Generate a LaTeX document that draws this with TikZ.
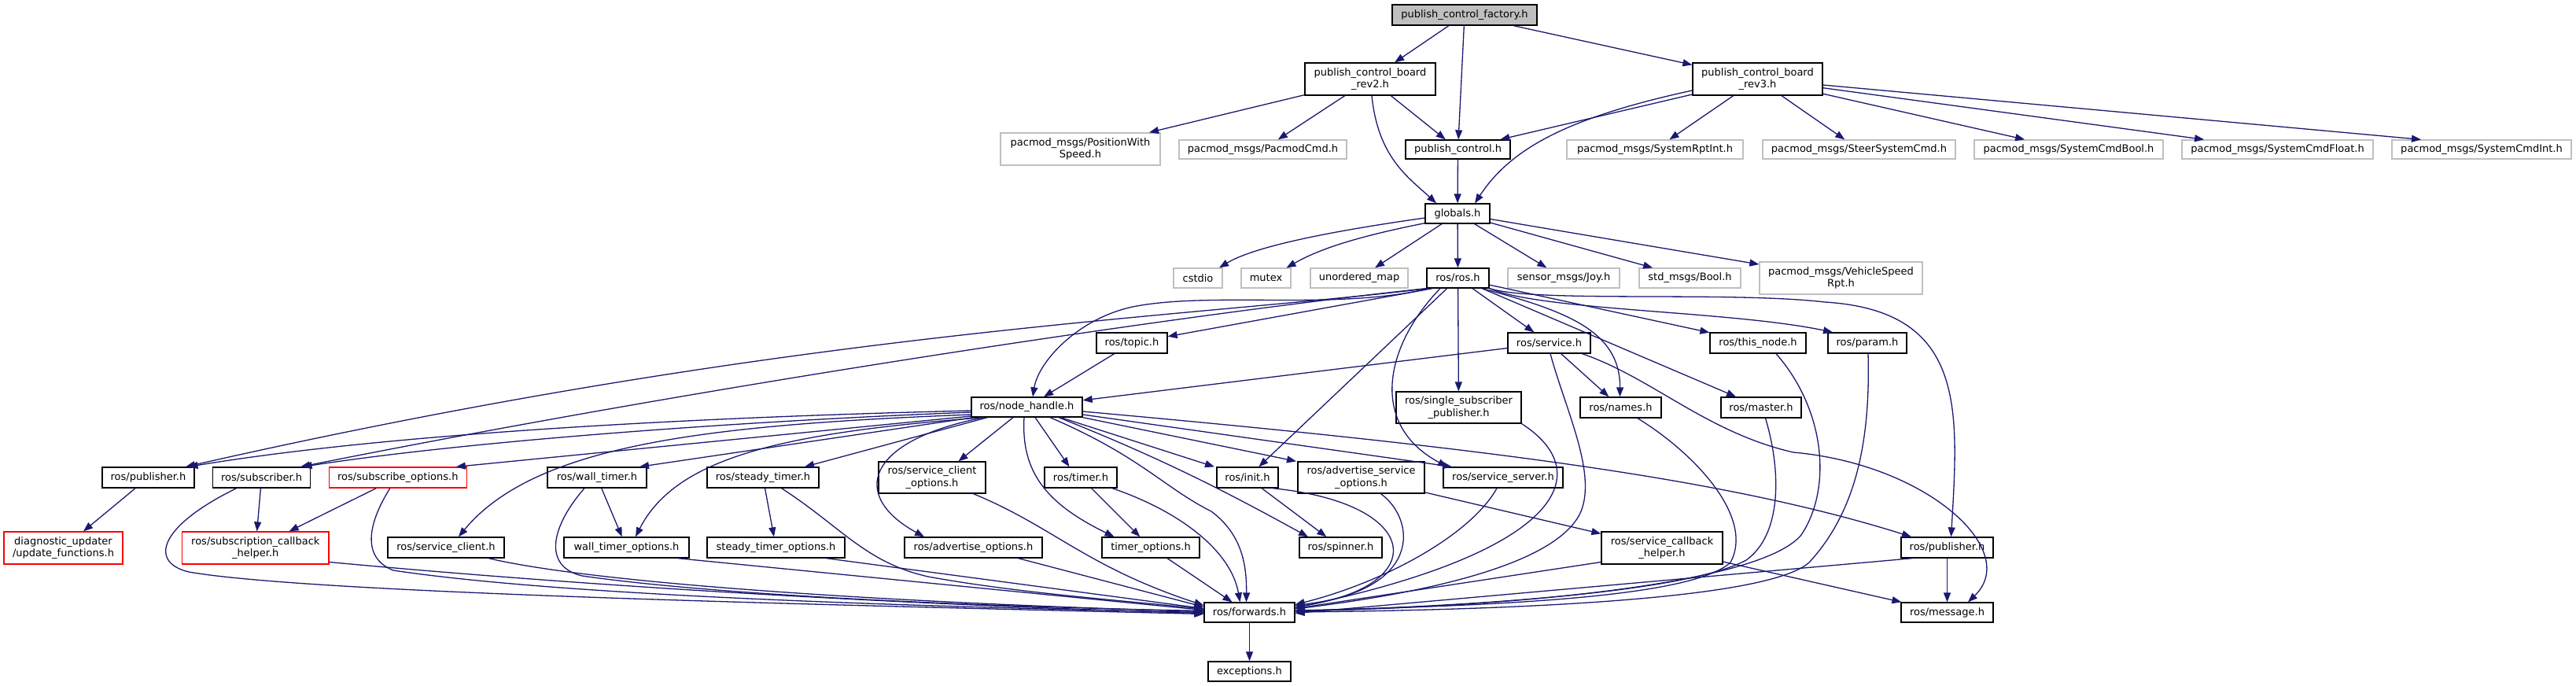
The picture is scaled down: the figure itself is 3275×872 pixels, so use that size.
\documentclass[tikz,border=0pt]{standalone}
\usepackage{fontspec}
\setmainfont{DejaVu Sans}
\usepackage{xcolor}
\usepackage{tikz}
\usetikzlibrary{arrows.meta}
\definecolor{edgeblue}{HTML}{191970}
\definecolor{extgray}{HTML}{BFBFBF}
\newcommand{\graphfont}{\fontsize{13}{15.5}\selectfont}

\begin{document}
\begin{tikzpicture}[x=1pt, y=-1pt,
	hdr/.style={draw=black, line width=1.3pt, inner sep=0pt, align=center, font=\graphfont, minimum height=25pt},
	ext/.style={hdr, draw=extgray},
	bad/.style={hdr, draw=red},
	dep/.style={draw=edgeblue, line width=1.3pt, -{Triangle[length=12pt,width=9pt]}}]

			\useasboundingbox (0,0) rectangle (3275,872);

			\node (factory) at (1862,19) [hdr, fill=extgray, minimum width=184pt, minimum height=26pt] {publish\_control\_factory.h};
			\node (rev2) at (1742,100.5) [hdr, minimum width=166pt, minimum height=41pt] {publish\_control\_board\\\_rev2.h};
			\node (rev3) at (2234.5,100.5) [hdr, minimum width=165pt, minimum height=41pt] {publish\_control\_board\\\_rev3.h};

			\node (poswspeed) at (1373.5,189.5) [ext, minimum width=203pt, minimum height=41pt] {pacmod\_msgs/PositionWith\\Speed.h};
			\node (pacmodcmd) at (1605.5,190) [ext, minimum width=213pt, minimum height=24pt] {pacmod\_msgs/PacmodCmd.h};
			\node (pubctrl) at (1853.5,190) [hdr, minimum width=133pt, minimum height=24pt] {publish\_control.h};
			\node (sysrptint) at (2104,190) [ext, minimum width=224pt, minimum height=24pt] {pacmod\_msgs/SystemRptInt.h};
			\node (steercmd) at (2363.5,190) [ext, minimum width=245pt, minimum height=24pt] {pacmod\_msgs/SteerSystemCmd.h};
			\node (cmdbool) at (2630,190) [ext, minimum width=240pt, minimum height=24pt] {pacmod\_msgs/SystemCmdBool.h};
			\node (cmdfloat) at (2895.5,190) [ext, minimum width=243pt, minimum height=24pt] {pacmod\_msgs/SystemCmdFloat.h};
			\node (cmdint) at (3155,190) [ext, minimum width=228pt, minimum height=24pt] {pacmod\_msgs/SystemCmdInt.h};

			\node (globals) at (1853,271.5) [hdr, minimum width=82pt] {globals.h};

			\node (cstdio) at (1523,353.5) [ext, minimum width=62pt] {cstdio};
			\node (mutex) at (1609.5,353.5) [ext, minimum width=63pt] {mutex};
			\node (umap) at (1728,353.5) [ext, minimum width=124pt] {unordered\_map};
			\node (rosh) at (1853.5,353.5) [hdr, minimum width=79pt] {ros/ros.h};
			\node (joy) at (1988,353.5) [ext, minimum width=142pt] {sensor\_msgs/Joy.h};
			\node (boolmsg) at (2148.5,353.5) [ext, minimum width=129pt] {std\_msgs/Bool.h};
			\node (vehspeed) at (2340.5,353.5) [ext, minimum width=207pt, minimum height=41pt] {pacmod\_msgs/VehicleSpeed\\Rpt.h};

			\node (topic) at (1439,436) [hdr, minimum width=90pt, minimum height=26pt] {ros/topic.h};
			\node (service) at (1969.5,436) [hdr, minimum width=105pt, minimum height=26pt] {ros/service.h};
			\node (thisnode) at (2235,436) [hdr, minimum width=122pt, minimum height=26pt] {ros/this\_node.h};
			\node (param) at (2374,436) [hdr, minimum width=100pt, minimum height=26pt] {ros/param.h};

			\node (nodehandle) at (1305.5,517.5) [hdr, minimum width=141pt] {ros/node\_handle.h};
			\node (sspub) at (1854.5,518) [hdr, minimum width=159pt, minimum height=40pt] {ros/single\_subscriber\\\_publisher.h};
			\node (names) at (2060.5,518) [hdr, minimum width=103pt, minimum height=26pt] {ros/names.h};
			\node (master) at (2239,518) [hdr, minimum width=102pt, minimum height=26pt] {ros/master.h};

			\node (pubA) at (188.5,607) [hdr, minimum width=117pt, minimum height=26pt] {ros/publisher.h};
			\node (subscriber) at (332.6,607) [hdr, minimum width=124pt, minimum height=26pt] {ros/subscriber.h};
			\node (subopts) at (505.8,607) [bad, minimum width=175pt, minimum height=26pt] {ros/subscribe\_options.h};
			\node (walltimer) at (759,607) [hdr, minimum width=126pt, minimum height=26pt] {ros/wall\_timer.h};
			\node (steadytimer) at (970,607) [hdr, minimum width=142pt, minimum height=26pt] {ros/steady\_timer.h};
			\node (srvclientopts) at (1185,607) [hdr, minimum width=136pt, minimum height=40pt] {ros/service\_client\\\_options.h};
			\node (timer) at (1374,607) [hdr, minimum width=92pt, minimum height=26pt] {ros/timer.h};
			\node (init) at (1586,607) [hdr, minimum width=78pt, minimum height=26pt] {ros/init.h};
			\node (advsrvopts) at (1730.5,607) [hdr, minimum width=161pt, minimum height=40pt] {ros/advertise\_service\\\_options.h};
			\node (srvserver) at (1911,607) [hdr, minimum width=152pt, minimum height=26pt] {ros/service\_server.h};

			\node (diagupd) at (80.5,696.5) [bad, minimum width=151pt, minimum height=41pt] {diagnostic\_updater\\/update\_functions.h};
			\node (subcbhelper) at (324.8,696.5) [bad, minimum width=186.5pt, minimum height=41pt] {ros/subscription\_callback\\\_helper.h};
			\node (srvclient) at (567,696) [hdr, minimum width=148pt, minimum height=26pt] {ros/service\_client.h};
			\node (walltimeropts) at (796.5,696) [hdr, minimum width=159pt, minimum height=26pt] {wall\_timer\_options.h};
			\node (steadytimeropts) at (986.5,696) [hdr, minimum width=175pt, minimum height=26pt] {steady\_timer\_options.h};
			\node (advopts) at (1237.5,696) [hdr, minimum width=175pt, minimum height=26pt] {ros/advertise\_options.h};
			\node (timeropts) at (1463,696) [hdr, minimum width=124pt, minimum height=26pt] {timer\_options.h};
			\node (spinner) at (1704.5,696) [hdr, minimum width=105pt, minimum height=26pt] {ros/spinner.h};
			\node (srvcbhelper) at (2113,696.5) [hdr, minimum width=154pt, minimum height=41pt] {ros/service\_callback\\\_helper.h};
			\node (pubB) at (2475.5,696) [hdr, minimum width=117pt, minimum height=26pt] {ros/publisher.h};

			\node (forwards) at (1588.5,778.5) [hdr, minimum width=115pt] {ros/forwards.h};
			\node (message) at (2475.5,778.5) [hdr, minimum width=117pt] {ros/message.h};
			\node (exceptions) at (1588.5,853.5) [hdr, minimum width=105pt] {exceptions.h};

			\draw[dep] (factory) -- (rev2);
			\draw[dep] (factory) -- (pubctrl);
			\draw[dep] (factory) -- (rev3);
			\draw[dep] (rev2) -- (poswspeed);
			\draw[dep] (rev2) -- (pacmodcmd);
			\draw[dep] (rev2) -- (pubctrl);
			\draw[dep] ([xshift=2pt]rev2.south) .. controls (1752,200) and (1790,225) .. ([xshift=-27pt]globals.north);
			\draw[dep] (rev3) -- (pubctrl);
			\draw[dep] ([yshift=-14.5pt]rev3.west) .. controls (1990,150) and (1920,190) .. ([xshift=22pt]globals.north);
			\draw[dep] (rev3) -- (sysrptint);
			\draw[dep] (rev3) -- (steercmd);
			\draw[dep] (rev3) -- (cmdbool);
			\draw[dep] (rev3) -- (cmdfloat);
			\draw[dep] (rev3) -- ([xshift=-77pt]cmdint.north);
			\draw[dep] (pubctrl) -- (globals);

			\draw[dep] ([yshift=-5.5pt]globals.west) .. controls (1720,290) and (1600,310) .. ([xshift=27pt]cstdio.north);
			\draw[dep] ([yshift=1pt]globals.south west) .. controls (1730,300) and (1680,315) .. ([xshift=26pt]mutex.north);
			\draw[dep] (globals) -- (umap);
			\draw[dep] (globals) -- (rosh);
			\draw[dep] (globals) -- (joy);
			\draw[dep] (globals) -- (boolmsg);
			\draw[dep] (globals) -- (vehspeed);

			\draw[dep] ([xshift=-32pt]rosh.south) -- (topic);
			\draw[dep] ([xshift=3pt]rosh.south west) .. controls (1700,395) and (1540,370) .. (1440,390) .. controls (1370,405) and (1320,460) .. ([xshift=7.5pt]nodehandle.north);
			\draw[dep] ([xshift=2pt]rosh.south west) .. controls (1500,405) and (1000,420) .. ([xshift=47.5pt]pubA.north);
			\draw[dep] (rosh.south west) .. controls (1500,400) and (900,490) .. ([xshift=49.5pt]subscriber.north);
			\draw[dep] (rosh) -- (sspub);
			\draw[dep] (rosh) -- (service);
			\draw[dep] (rosh) -- (thisnode);
			\draw[dep] (rosh.south east) .. controls (1960,395) and (2200,395) .. ([xshift=-44pt]param.north);
			\draw[dep] ([xshift=30.5pt]rosh.south) .. controls (1990,395) and (2060,420) .. ([xshift=-1pt]names.north);
			\draw[dep] (rosh) -- (master);
			\draw[dep] (rosh) -- (init);
			\draw[dep] ([xshift=-22.5pt]rosh.south) .. controls (1760,440) and (1740,540) .. ([xshift=-71pt]srvserver.north);
			\draw[dep] (rosh.south east) .. controls (1950,385) and (2200,370) .. (2320,384) .. controls (2500,395) and (2490,520) .. ([xshift=5pt]pubB.north);

			\draw[dep] (topic) -- (nodehandle);
			\draw[dep] (service) -- (nodehandle);
			\draw[dep] (service) -- (names);
			\draw[dep] ([xshift=1.5pt]service.south) .. controls (1990,520) and (2030,600) .. (2010,650) .. controls (1980,720) and (1800,755) .. ([yshift=4.5pt]forwards.east);
			\draw[dep] ([xshift=42pt]service.south) .. controls (2100,480) and (2170,550) .. (2280,575) .. controls (2450,590) and (2570,700) .. ([xshift=26.5pt]message.north);
			\draw[dep] ([xshift=23pt]thisnode.south) .. controls (2320,520) and (2330,620) .. (2290,680) .. controls (2240,740) and (1950,770) .. ([yshift=1.5pt]forwards.east);
			\draw[dep] ([xshift=1pt]param.south) .. controls (2378,560) and (2360,650) .. (2300,715) .. controls (2250,760) and (1950,775) .. ([yshift=0.5pt]forwards.east);
			\draw[dep] ([xshift=21.5pt]names.south) .. controls (2160,580) and (2230,660) .. (2200,715) .. controls (2150,760) and (1900,770) .. ([yshift=2.5pt]forwards.east);
			\draw[dep] ([xshift=5.5pt]master.south) .. controls (2265,600) and (2265,680) .. (2220,712) .. controls (2150,750) and (1900,770) .. ([yshift=2pt]forwards.east);
			\draw[dep] (sspub.south east) .. controls (2030,600) and (1990,700) .. ([yshift=6pt]forwards.east);

			\draw[dep] ([yshift=-4.5pt]nodehandle.west) .. controls (900,530) and (500,550) .. ([xshift=51pt]pubA.north);
			\draw[dep] ([yshift=-6.5pt]nodehandle.west) .. controls (950,535) and (600,560) .. ([xshift=52pt]subscriber.north);
			\draw[dep] ([yshift=-9.5pt]nodehandle.west) .. controls (900,540) and (680,565) .. ([xshift=16pt]srvclient.north);
			\draw[dep] ([yshift=-11.5pt]nodehandle.west) -- ([xshift=74pt]subopts.north);
			\draw[dep] ([xshift=3pt]nodehandle.south west) -- ([xshift=54pt]walltimer.north);
			\draw[dep] ([xshift=16pt]nodehandle.south west) .. controls (1000,550) and (860,580) .. ([xshift=11.5pt]walltimeropts.north);
			\draw[dep] ([xshift=21pt]nodehandle.south west) -- ([xshift=53pt]steadytimer.north);
			\draw[dep] ([xshift=-17.5pt]nodehandle.south) -- ([xshift=33.5pt]srvclientopts.north);
			\draw[dep] ([xshift=-54.5pt]nodehandle.south) .. controls (1100,560) and (1080,630) .. ([xshift=-62.5pt]advopts.north);
			\draw[dep] ([xshift=10.5pt]nodehandle.south) -- ([xshift=-14.5pt]timer.north);
			\draw[dep] ([xshift=-3.5pt]nodehandle.south) .. controls (1298,600) and (1330,640) .. ([xshift=-46.5pt]timeropts.north);
			\draw[dep] ([xshift=29.5pt]nodehandle.south) .. controls (1450,580) and (1480,620) .. (1540,650) .. controls (1580,680) and (1585,720) .. ([xshift=-4pt]forwards.north);
			\draw[dep] ([xshift=40.5pt]nodehandle.south) .. controls (1470,580) and (1550,620) .. ([xshift=-41.5pt]spinner.north);
			\draw[dep] ([xshift=43pt]nodehandle.south) -- ([xshift=-42pt]init.north);
			\draw[dep] (nodehandle.south east) -- ([xshift=-82.5pt]advsrvopts.north);
			\draw[dep] ([yshift=-9.5pt]nodehandle.east) -- ([xshift=-65pt]srvserver.north);
			\draw[dep] ([yshift=-5.5pt]nodehandle.east) .. controls (1900,570) and (2200,610) .. ([xshift=-45.5pt]pubB.north);

			\draw[dep] (pubA) -- (diagupd);
			\draw[dep] (subscriber) -- (subcbhelper);
			\draw[dep] (subopts) -- (subcbhelper);
			\draw[dep] (walltimer) -- (walltimeropts);
			\draw[dep] (steadytimer) -- (steadytimeropts);
			\draw[dep] (timer) -- (timeropts);
			\draw[dep] (init) -- (spinner);
			\draw[dep] (advsrvopts) -- (srvcbhelper);
			\draw[dep] (srvcbhelper) -- (message);
			\draw[dep] (pubB) -- (message);

			\draw[dep] ([xshift=-8pt]srvserver.south) .. controls (1870,680) and (1760,740) .. ([yshift=10pt]forwards.east);
			\draw[dep] ([xshift=25pt]advsrvopts.south) .. controls (1800,660) and (1810,750) .. ([yshift=9pt]forwards.east);
			\draw[dep] ([xshift=32pt]init.south) .. controls (1810,640) and (1820,745) .. ([yshift=7pt]forwards.east);
			\draw[dep] ([yshift=-18pt]srvcbhelper.west) -- ([yshift=5pt]forwards.east);
			\draw[dep] ([xshift=-44pt]pubB.south) -- ([yshift=-1pt]forwards.east);
			\draw[dep] ([xshift=21pt]timeropts.south) -- ([xshift=-22pt]forwards.north);
			\draw[dep] ([xshift=40pt]timer.south) .. controls (1500,650) and (1565,700) .. ([xshift=-12pt]forwards.north);
			\draw[dep] ([xshift=52.5pt]srvclientopts.south) .. controls (1340,670) and (1380,720) .. ([yshift=9pt]forwards.west);
			\draw[dep] ([xshift=57pt]advopts.south) -- ([yshift=7pt]forwards.west);
			\draw[dep] ([xshift=64pt]steadytimeropts.south) -- ([yshift=5pt]forwards.west);
			\draw[dep] ([xshift=23.5pt]steadytimer.south) .. controls (1070,670) and (1100,715) .. (1180,733) .. controls (1300,755) and (1450,765) .. ([yshift=4pt]forwards.west);
			\draw[dep] ([xshift=65pt]walltimeropts.south) -- ([yshift=3pt]forwards.west);
			\draw[dep] ([xshift=-16pt]walltimer.south) .. controls (700,670) and (690,720) .. (740,732) .. controls (900,755) and (1200,770) .. ([yshift=2pt]forwards.west);
			\draw[dep] ([xshift=54pt]srvclient.south) .. controls (750,740) and (1100,765) .. ([yshift=1pt]forwards.west);
			\draw[dep] ([xshift=-10pt]subopts.south) .. controls (465,670) and (462,710) .. (500,725) .. controls (700,755) and (1100,770) .. (forwards.west);
			\draw[dep] ([yshift=-18pt]subcbhelper.east) .. controls (800,750) and (1200,770) .. ([yshift=-1pt]forwards.west);
			\draw[dep] ([xshift=-32pt]subscriber.south) .. controls (200,670) and (190,715) .. (240,727) .. controls (400,755) and (1100,770) .. ([yshift=-2pt]forwards.west);
			\draw[dep] (forwards) -- (exceptions);
\end{tikzpicture}
\end{document}
